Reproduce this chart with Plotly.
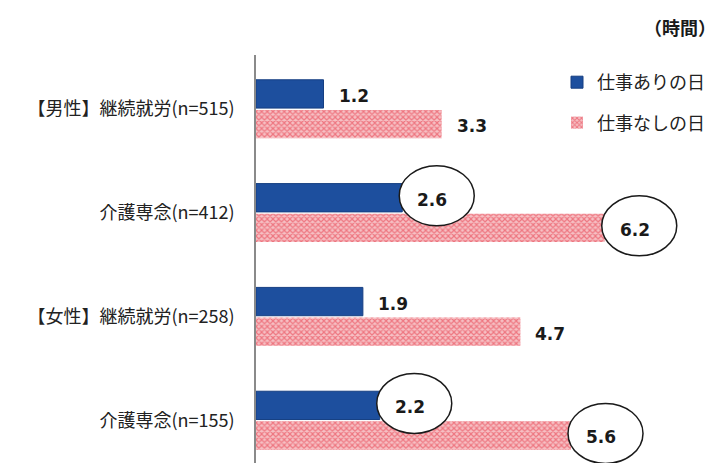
import plotly.graph_objects as go

# Average hours of care per day, by group and by work/non-work day
categories = ["【男性】継続就労(n=515)", "介護専念(n=412)",
              "【女性】継続就労(n=258)", "介護専念(n=155)"]
work_day = [1.2, 2.6, 1.9, 2.2]
off_day = [3.3, 6.2, 4.7, 5.6]
highlight = [False, True, False, True]   # groups whose values are circled
series_names = ["仕事ありの日", "仕事なしの日"]
unit_label = "（時間）"

pos = list(range(len(categories)))

BLUE = "#1d4f9e"
PINK_BG = "#f6c0c4"
PINK_FG = "#e52b3c"
JP_FONT = "Noto Sans CJK JP"
NUM_FONT = "DejaVu Sans"

fig = go.Figure()
fig.add_trace(go.Bar(
    y=pos, x=work_day, orientation="h", name=series_names[0],
    legendgroup="a",
    marker=dict(color=BLUE, line=dict(color="#163f82", width=1)),
))
fig.add_trace(go.Bar(
    y=pos, x=off_day, orientation="h", name=series_names[1],
    legendgroup="b",
    marker=dict(color=PINK_BG, line=dict(width=0),
                pattern=dict(shape="x", fgcolor=PINK_FG, bgcolor=PINK_BG,
                             size=4, solidity=0.5)),
))

BARGAP = 0.42
slot = (1 - BARGAP) / 2
offsets = [-slot / 2, slot / 2]

annotations = []
shapes = []
for i, p in enumerate(pos):
    for k, vals in enumerate([work_day, off_day]):
        v = vals[i]
        yc = p + offsets[k]
        if highlight[i]:
            shapes.append(dict(
                type="circle", xref="x", yref="y",
                xsizemode="pixel", ysizemode="pixel",
                xanchor=v, yanchor=yc,
                x0=-3, x1=72, y0=-28, y1=32,
                line=dict(color="#1a1a1a", width=1.5),
                fillcolor="white", layer="above",
            ))
        annotations.append(dict(
            x=v, y=yc, xref="x", yref="y", text=f"{v:.1f}",
            showarrow=False, xanchor="center", yanchor="middle",
            xshift=30, yshift=-2,
            font=dict(family=NUM_FONT, size=17, color="#1a1a1a", weight="bold"),
        ))

W, H = 724, 463
ML, MR, MT, MB = 256, 18, 55, 0
pw, ph = W - ML - MR, H - MT - MB

# unit label placed in the top-right corner
annotations.append(dict(
    x=(680 - ML) / pw, y=1 + (MT - 27) / ph, xref="paper", yref="paper",
    text=unit_label, showarrow=False, xanchor="center", yanchor="middle",
    font=dict(family=JP_FONT, size=18, color="#1a1a1a", weight="bold"),
))

fig.update_layout(
    width=W, height=H,
    margin=dict(l=ML, r=MR, t=MT, b=MB),
    paper_bgcolor="white", plot_bgcolor="white",
    barmode="group", bargap=BARGAP, bargroupgap=0.06,
    font=dict(family=JP_FONT, size=18, color="#222222"),
    xaxis=dict(range=[0, 8], visible=False, fixedrange=True),
    yaxis=dict(
        range=[3.41, -0.52], tickmode="array", tickvals=pos,
        ticktext=categories, showgrid=False, zeroline=False,
        showline=True, linecolor="#8a8a8a", linewidth=1.5,
        ticks="", ticklabelstandoff=16,
        tickfont=dict(family=JP_FONT, size=18, color="#222222"),
    ),
    showlegend=True,
    legend=dict(
        x=(557 - ML) / pw, y=1 - (64 - MT) / ph, xanchor="left", yanchor="top",
        traceorder="grouped", tracegroupgap=14,
        font=dict(family=JP_FONT, size=18, color="#222222"),
        bgcolor="rgba(0,0,0,0)", itemwidth=30,
    ),
    annotations=annotations,
    shapes=shapes,
)

fig.write_html("out.html")
